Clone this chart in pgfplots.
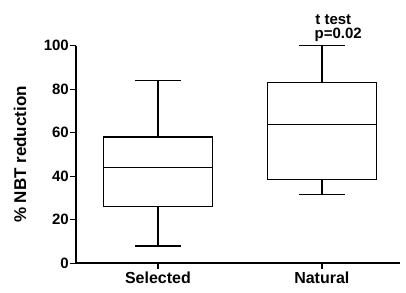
\documentclass[border=0pt]{standalone}
\usepackage{fontspec}
\setmainfont{Liberation Sans}
\usepackage{pgfplots}
\pgfplotsset{compat=1.18}
\pgfplotsset{bx/.style={black, solid, line width=1.4pt, mark=none, line join=miter}}
\begin{document}
\begin{tikzpicture}
\useasboundingbox (-76pt,-28.7pt) rectangle (330pt,263.3pt);
\begin{axis}[
  at={(0,0)}, anchor=south west,
  scale only axis, width=324pt, height=217.6pt,
  xmin=0.5, xmax=2.477, ymin=0, ymax=100,
  axis lines=left, axis line style={line width=1.8pt, -},
  xtick={1,2}, xticklabels={Selected,Natural},
  ytick={0,20,40,60,80,100},
  tick style={line width=1.4pt, black},
  major tick length=6pt, tick align=outside,
  /pgf/number format/assume math mode=true,
  ticklabel style={font=\fontsize{15}{15}\selectfont\bfseries},
  xticklabel style={font=\fontsize{16}{16}\selectfont\bfseries, yshift=1pt},
  yticklabel style={inner sep=1pt},
  ylabel={\% NBT reduction},
  ylabel style={font=\fontsize{17}{17}\selectfont\bfseries, at={(axis description cs:-0.173,0.5)}, anchor=center},
  clip=false,
]
% Selected: whiskers 8 / 84, quartiles 26.2 / 58, median 44
\addplot[bx] coordinates {(0.6675,26.2) (1.3325,26.2) (1.3325,58) (0.6675,58) (0.6675,26.2)};
\addplot[bx] coordinates {(0.6675,44) (1.3325,44)};
\addplot[bx] coordinates {(1,58) (1,84)};
\addplot[bx] coordinates {(0.86,84) (1.14,84)};
\addplot[bx] coordinates {(1,26.2) (1,8)};
\addplot[bx] coordinates {(0.86,8) (1.14,8)};
% Natural: whiskers 31.7 / 100, quartiles 38.6 / 83.1, median 63.8
\addplot[bx] coordinates {(1.6675,38.6) (2.3325,38.6) (2.3325,83.1) (1.6675,83.1) (1.6675,38.6)};
\addplot[bx] coordinates {(1.6675,63.8) (2.3325,63.8)};
\addplot[bx] coordinates {(2,83.1) (2,100)};
\addplot[bx] coordinates {(1.86,100) (2.14,100)};
\addplot[bx] coordinates {(2,38.6) (2,31.7)};
\addplot[bx] coordinates {(1.86,31.7) (2.14,31.7)};
\node[font=\fontsize{15}{15}\selectfont\bfseries] at (axis cs:2.07,112) {t test};
\node[font=\fontsize{15}{15}\selectfont\bfseries] at (axis cs:2.1,105) {p=0.02};
\end{axis}
\end{tikzpicture}
\end{document}
